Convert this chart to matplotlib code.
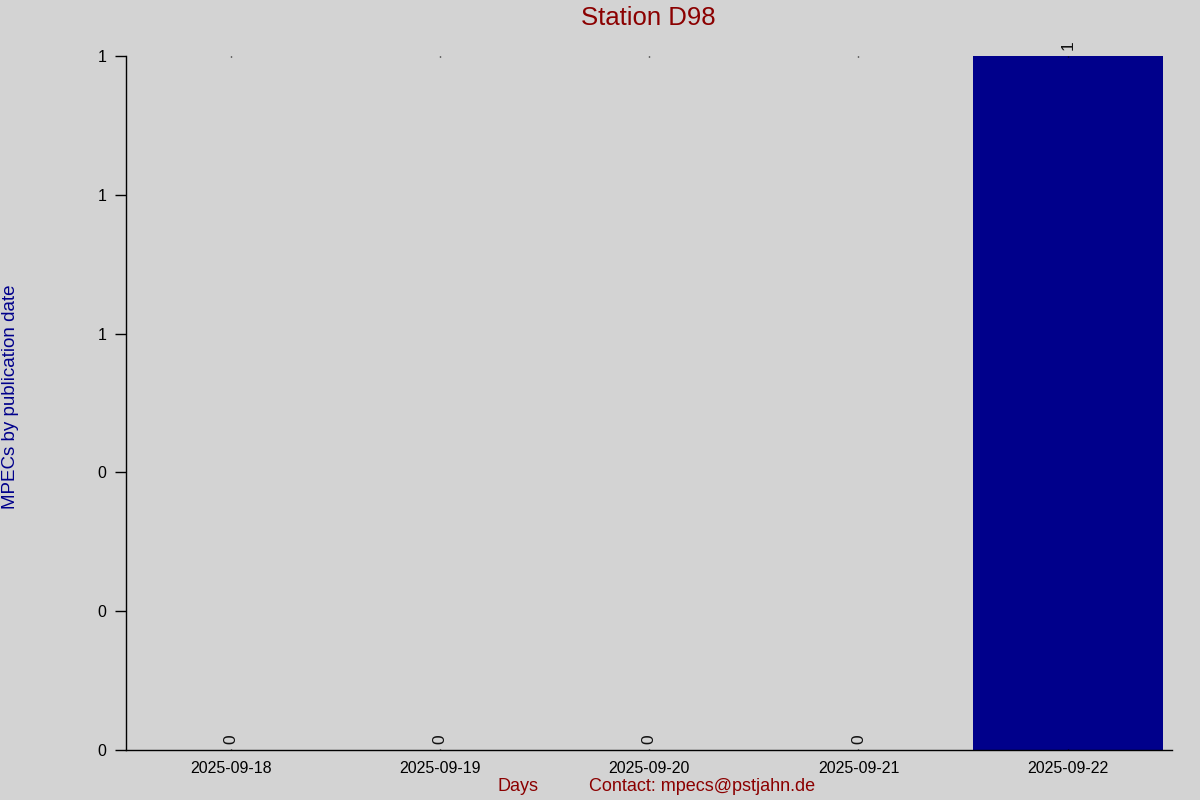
import numpy as np
import matplotlib.pyplot as plt
from matplotlib.ticker import FormatStrFormatter

# Data
days = ["2025-09-18", "2025-09-19", "2025-09-20", "2025-09-21", "2025-09-22"]
mpecs = [0, 0, 0, 0, 1]

plt.rcParams['font.family'] = ['Liberation Sans', 'DejaVu Sans']

bg = "#d3d3d3"
fig = plt.figure(figsize=(12, 8), dpi=100, facecolor=bg)
ax = fig.add_axes([0.105, 0.0625, 0.872, 0.8675], facecolor=bg)

x = np.arange(len(days))
ax.bar(x, mpecs, width=0.91, color="#00008b")

# value labels rotated
for xi, v in zip(x, mpecs):
    ax.text(xi, v + 0.009, str(v), rotation=90, ha="center", va="bottom",
            fontsize=12.5, color="#111111")

ax.set_xlim(-0.5, len(days) - 0.5)
ax.set_ylim(0, 1)
ax.set_xticks(x)
ax.set_xticklabels(days, fontsize=11.5)
ax.set_yticks(np.linspace(0, 1, 6))
ax.yaxis.set_major_formatter(FormatStrFormatter("%.0f"))
ax.tick_params(axis="y", labelsize=11.5, length=8, width=1, pad=6)
ax.tick_params(axis="x", length=0, pad=8)

# tiny marks on top edge
ax.tick_params(axis="x", which="both", top=True, direction="in", length=1, width=1)

for s in ["top", "right"]:
    ax.spines[s].set_visible(False)
ax.spines["left"].set_linewidth(1)
ax.spines["bottom"].set_linewidth(1)

fig.text(0.5405, 0.977, "Station D98", ha="center", va="center",
         fontsize=18.5, color="#8b0000")
fig.text(0.0085, 0.504, "MPECs by publication date", rotation=90,
         ha="center", va="center", fontsize=13.5, color="#00008b")
fig.text(0.432, 0.017, "Days", ha="center", va="center",
         fontsize=13, color="#8b0000")
fig.text(0.491, 0.017, "Contact: mpecs@pstjahn.de", ha="left", va="center",
         fontsize=13, color="#8b0000")

plt.savefig("out.png", facecolor=bg)
